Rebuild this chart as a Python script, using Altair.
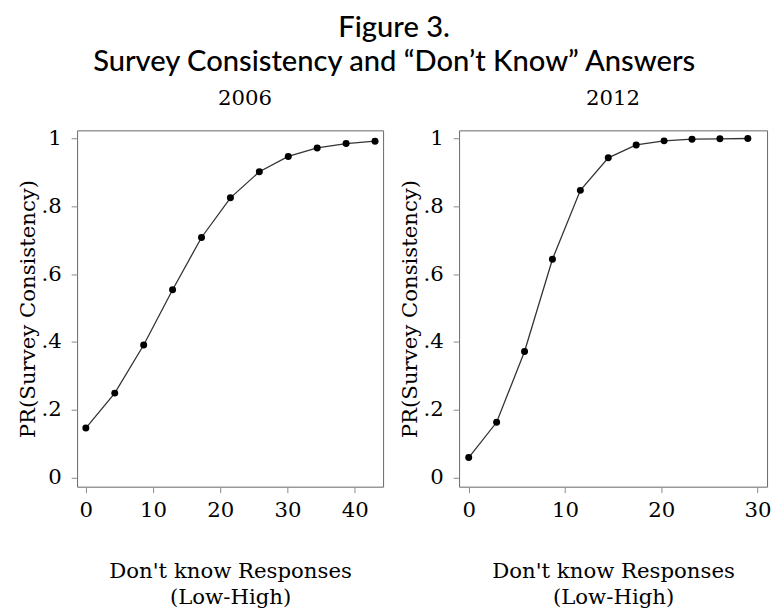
import altair as alt
import pandas as pd

x_2006 = [0, 4.3, 8.6, 12.9, 17.2, 21.5, 25.8, 30.1, 34.4, 38.7, 43.0]
y_2006 = [0.146, 0.249, 0.391, 0.554, 0.708, 0.825, 0.902, 0.947, 0.972, 0.985, 0.992]
x_2012 = [0, 2.9, 5.8, 8.7, 11.6, 14.5, 17.4, 20.3, 23.2, 26.1, 29.0]
y_2012 = [0.059, 0.163, 0.372, 0.644, 0.847, 0.943, 0.981, 0.993, 0.998, 0.999, 1.0]

y_ticks = [0, 0.2, 0.4, 0.6, 0.8, 1.0]
x_ticks_2006 = [0, 10, 20, 30, 40]
x_ticks_2012 = [0, 10, 20, 30]

SERIF = "DejaVu Serif"
SANS = "Lato"
FS = 21.5
TFS = 29.5


def panel(xs, ys, year, xdomain, xticks, width, dx):
    df = pd.DataFrame({"x": xs, "y": ys})
    xenc = alt.X(
        "x:Q",
        scale=alt.Scale(domain=xdomain, nice=False, zero=False),
        axis=alt.Axis(
            values=xticks,
            title=["Don't know Responses", "(Low-High)"],
            titlePadding=40,
            labelPadding=7,
        ),
    )
    yenc = alt.Y(
        "y:Q",
        scale=alt.Scale(domain=[-0.027, 1.024], nice=False, zero=False),
        axis=alt.Axis(
            values=y_ticks,
            title="PR(Survey Consistency)",
            labelExpr="replace(format(datum.value, '.1~f'), '0.', '.')",
            titlePadding=2,
            labelPadding=10,
        ),
    )
    base = alt.Chart(df)
    line = base.mark_line(color="#333333", strokeWidth=1.3).encode(x=xenc, y=yenc)
    pts = base.mark_point(filled=True, color="black", size=50, opacity=1).encode(x=xenc, y=yenc)
    return (line + pts).properties(
        width=width,
        height=361,
        title=alt.TitleParams(
            year, font=SERIF, fontSize=FS, fontWeight="normal", color="black",
            offset=18, dx=dx
        ),
    )


left = panel(x_2006, y_2006, "2006", [-1.3, 44.2], x_ticks_2006, 310, 15)
right = panel(x_2012, y_2012, "2012", [-1.0, 31.0], x_ticks_2012, 312, 0)

chart = (
    alt.hconcat(left, right, spacing=14)
    .properties(
        title=alt.TitleParams(
            "Figure 3.",
            subtitle="Survey Consistency and \u201cDon\u2019t Know\u201d Answers",
            font=SANS,
            fontSize=TFS,
            fontWeight=500,
            color="black",
            subtitleFont=SANS,
            subtitleFontSize=TFS,
            subtitleFontWeight=500,
            subtitleColor="black",
            subtitlePadding=5,
            anchor="middle",
            offset=11,
        ),
        padding={"left": 8, "top": 1, "right": 0, "bottom": 0},
    )
    .configure_view(stroke="#666666", strokeWidth=1)
    .configure_axis(
        grid=False,
        domain=False,
        tickColor="#888888",
        tickSize=6,
        labelFont=SERIF,
        labelFontSize=FS,
        labelColor="black",
        titleFont=SERIF,
        titleFontSize=FS,
        titleFontWeight="normal",
        titleColor="black",
        titleLineHeight=27,
    )
    .configure_concat(spacing=14)
)

chart.save("out.html", embed_options={"renderer": "svg", "actions": False})
